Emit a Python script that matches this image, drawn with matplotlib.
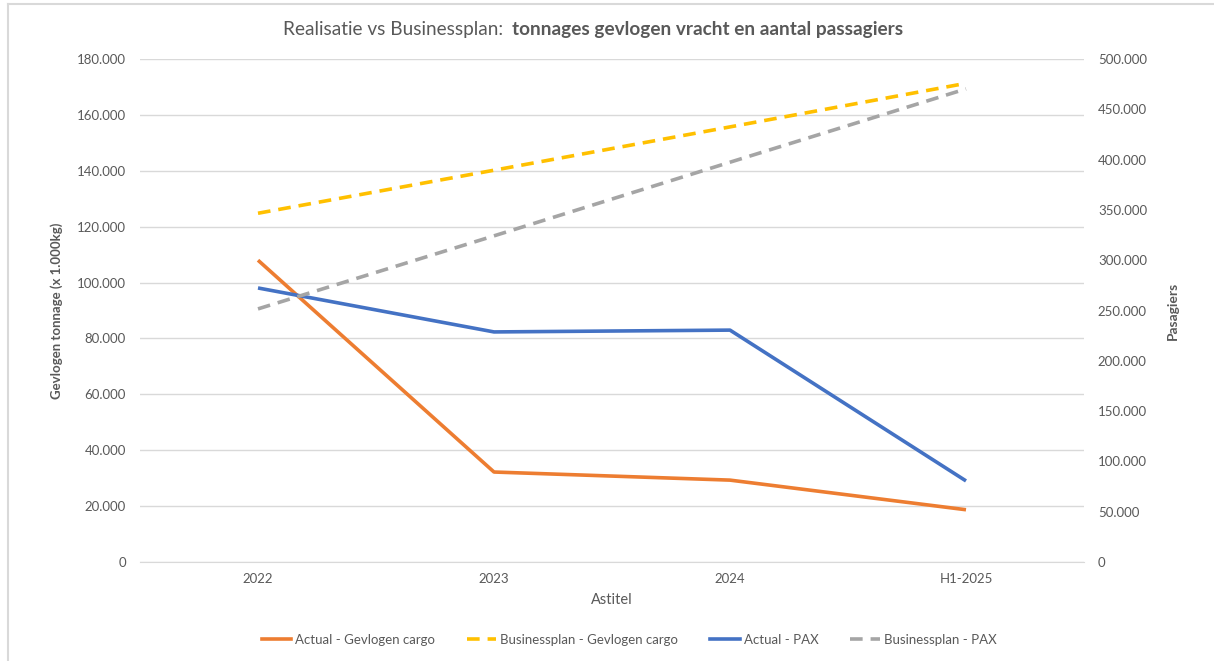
import matplotlib.pyplot as plt
from matplotlib.ticker import FuncFormatter
from matplotlib.lines import Line2D

plt.rcParams['font.family'] = ['Lato', 'DejaVu Sans']

# data
categories = ['2022', '2023', '2024', 'H1-2025']
actual_cargo = [108000, 32200, 29300, 18700]
plan_cargo = [124800, 140200, 155700, 171300]
actual_pax = [272400, 228700, 230500, 80600]
plan_pax = [251600, 324200, 397400, 470300]

orange = '#ED7D31'
yellow = '#FFC000'
blue = '#4472C4'
grey = '#A5A5A5'
txt = '#595959'


def dotfmt(v, pos):
    return f'{int(round(v)):,}'.replace(',', '.')


fig = plt.figure(figsize=(12.14, 6.61), dpi=100)
ax = fig.add_axes([140 / 1214, 1 - 562 / 661, 944 / 1214, 503 / 661])
ax2 = ax.twinx()

x = range(len(categories))
lw = 2.6
dash = (0, (3.5, 2.2))
ax.plot(x, actual_cargo, color=orange, lw=lw, solid_capstyle='butt', zorder=3)
ax.plot(x, plan_cargo, color=yellow, lw=lw, linestyle=dash, zorder=3)
ax2.plot(x, actual_pax, color=blue, lw=lw, solid_capstyle='butt', zorder=3)
ax2.plot(x, plan_pax, color=grey, lw=lw, linestyle=dash, zorder=3)

ax.set_xlim(-0.5, len(categories) - 0.5)
ax.set_ylim(0, 180000)
ax2.set_ylim(0, 500000)
ax.set_yticks(range(0, 180001, 20000))
ax2.set_yticks(range(0, 500001, 50000))
ax.yaxis.set_major_formatter(FuncFormatter(dotfmt))
ax2.yaxis.set_major_formatter(FuncFormatter(dotfmt))
ax.set_xticks(list(x))
ax.set_xticklabels(categories)

ax.grid(axis='y', color='#D9D9D9', lw=1)
ax.set_axisbelow(True)
for a in (ax, ax2):
    for s in a.spines.values():
        s.set_visible(False)
    a.tick_params(length=0, colors=txt, labelsize=9.5)
ax.spines['bottom'].set_visible(True)
ax.spines['bottom'].set_color('#D9D9D9')
ax.tick_params(axis='y', pad=10)
ax2.tick_params(axis='y', pad=10)
ax.tick_params(axis='x', pad=8)

ax.set_ylabel('Gevlogen tonnage (x 1.000kg)', color=txt, fontsize=9.5, fontweight='bold', labelpad=10)
ax2.set_ylabel('Pasagiers', color=txt, fontsize=10, fontweight='bold', labelpad=14)
ax.set_xlabel('Astitel', color=txt, fontsize=10.5, labelpad=6)

# title, regular + bold part
fig.text(503 / 1214, 1 - 30 / 661, 'Realisatie vs Businessplan:', ha='right', va='center',
         fontsize=13.7, color=txt)
fig.text(512 / 1214, 1 - 30 / 661, 'tonnages gevlogen vracht en aantal passagiers', ha='left',
         va='center', fontsize=13.7, color=txt, fontweight='bold')

handles = [
    Line2D([], [], color=orange, lw=lw),
    Line2D([], [], color=yellow, lw=lw, linestyle=dash),
    Line2D([], [], color=blue, lw=lw),
    Line2D([], [], color=grey, lw=lw, linestyle=dash),
]
labels = ['Actual - Gevlogen cargo', 'Businessplan - Gevlogen cargo', 'Actual - PAX', 'Businessplan - PAX']
leg = fig.legend(handles, labels, loc='center', bbox_to_anchor=(629 / 1214, 1 - 640 / 661), ncol=4,
                 frameon=False, fontsize=9.5, handlelength=2.25, handletextpad=0.3, columnspacing=2.4)
for t in leg.get_texts():
    t.set_color(txt)

# chart frame
fig.add_artist(Line2D([8 / 1214, 8 / 1214], [0, 1 - 4 / 661], transform=fig.transFigure, color='#D9D9D9', lw=1.5))
fig.add_artist(Line2D([8 / 1214, 1], [1 - 4 / 661, 1 - 4 / 661], transform=fig.transFigure, color='#D9D9D9', lw=1.5))

fig.savefig('out.png', dpi=100)
